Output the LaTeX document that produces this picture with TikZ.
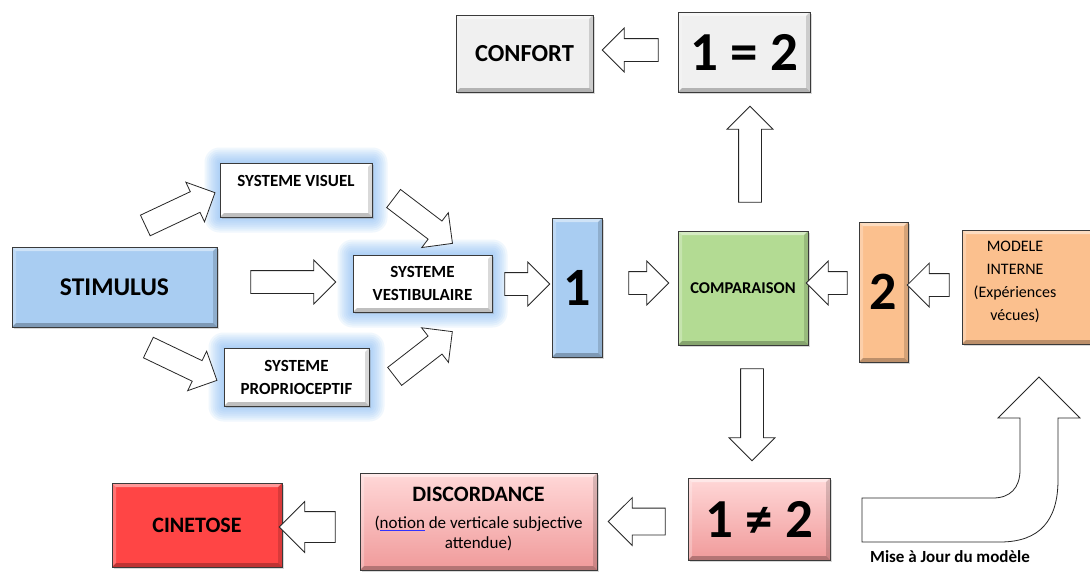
\documentclass[tikz,border=0pt]{standalone}
\usepackage{fontspec}
\setmainfont{Carlito}
\usetikzlibrary{shapes.arrows,shadows,backgrounds}
\definecolor{stimblue}{HTML}{A9CDF2}
\definecolor{compgreen}{HTML}{B3DB93}
\definecolor{orng}{HTML}{FBC08E}
\definecolor{cinered}{HTML}{FF4545}
\definecolor{lgrey}{HTML}{F0F0F0}
\definecolor{pinktop}{HTML}{FFD8D8}
\definecolor{pinkbot}{HTML}{F09A9A}
\definecolor{glowc}{HTML}{7FB8F5}
\definecolor{edgec}{HTML}{3A3A3A}
\newcommand\fs[2]{\fontsize{#1}{#2}\selectfont}
\newsavebox\ulbox
\newcommand\spellul[1]{\sbox\ulbox{#1}\rlap{\color{blue!80}\rule[-2.5pt]{\wd\ulbox}{0.7pt}}\usebox\ulbox}
\def\ppb{path picture bounding box}
\tikzset{
  bevel/.style={path picture={
    \fill[white,opacity=0.45] (\ppb.north west) -- (\ppb.north east) -- ([shift={(-4pt,-4pt)}]\ppb.north east) -- ([shift={(4pt,-4pt)}]\ppb.north west) -- cycle;
    \fill[white,opacity=0.25] (\ppb.north west) -- ([shift={(4pt,-4pt)}]\ppb.north west) -- ([shift={(4pt,4pt)}]\ppb.south west) -- (\ppb.south west) -- cycle;
    \fill[black,opacity=0.25] (\ppb.south west) -- (\ppb.south east) -- ([shift={(-4pt,4pt)}]\ppb.south east) -- ([shift={(4pt,4pt)}]\ppb.south west) -- cycle;
    \fill[black,opacity=0.15] (\ppb.north east) -- ([shift={(-4pt,-4pt)}]\ppb.north east) -- ([shift={(-4pt,4pt)}]\ppb.south east) -- (\ppb.south east) -- cycle;
  }},
  box/.style={draw=edgec, line width=1pt, inner sep=0pt, align=center, bevel,
    drop shadow={shadow xshift=1.5pt, shadow yshift=-2pt, opacity=0.3}},
  sysbox/.style={box, fill=white, font=\fs{17}{23}\bfseries},
  barrow/.style={single arrow, draw=black!85, fill=white, line width=0.8pt, inner xsep=0pt, inner ysep=11pt,
    minimum width=43pt, single arrow head extend=10.5pt, single arrow head indent=0pt},
  glowlayer/.style={glowc, opacity=0.11}
}
\begin{document}
\begin{tikzpicture}[x=1pt,y=-1pt]
\useasboundingbox (0,0) rectangle (1090,571);

% boxes
\node[box, fill=stimblue, minimum width=205pt, minimum height=80pt, font=\fs{25.5}{28}\bfseries] (stim) at (114.5,287) {STIMULUS};
\node[sysbox, minimum width=152pt, minimum height=54pt] (visuel) at (296,190) {};
\node[font=\fs{17}{23}\bfseries, inner sep=0pt] (visuelt) at (296,181) {SYSTEME VISUEL};
\node[sysbox, minimum width=139pt, minimum height=57pt] (vestib) at (422.5,283.5) {SYSTEME\\VESTIBULAIRE};
\node[sysbox, minimum width=145pt, minimum height=58pt] (proprio) at (296.5,377) {SYSTEME\\PROPRIOCEPTIF};
\node[box, fill=stimblue, minimum width=50pt, minimum height=139pt, font=\fs{54}{60}\bfseries] (one) at (577,287.5) {1};
\node[box, fill=compgreen, minimum width=130pt, minimum height=114pt, font=\fs{16.5}{20}\bfseries] (comp) at (743,288) {COMPARAISON};
\node[box, fill=orng, minimum width=49pt, minimum height=140pt, font=\fs{54}{60}\bfseries] (two) at (883.5,292) {2};
\node[box, fill=orng, minimum width=138pt, minimum height=114pt] (modele) at (1031,287) {};
\node[font=\fs{16}{23}, align=center, inner sep=0pt] (modeletxt) at (1015,282) {MODELE\\INTERNE\\(Expériences\\vécues)};
\node[box, fill=lgrey, minimum width=137pt, minimum height=77pt, font=\fs{24.5}{28}\bfseries] (conf) at (524.5,53.5) {CONFORT};
\node[box, fill=lgrey, minimum width=132pt, minimum height=80pt, font=\fs{55}{60}\bfseries] (eq) at (744,52) {1 = 2};
\node[box, top color=pinktop, bottom color=pinkbot, minimum width=142pt, minimum height=82pt, font=\fs{55}{60}\bfseries] (neq) at (759,519) {1 ≠ 2};
\node[box, top color=pinktop, bottom color=pinkbot, minimum width=237pt, minimum height=97pt] (disc) at (478.5,521.5) {};
\node[font=\fs{22}{24}\bfseries, inner sep=0pt] (disct) at (478.5,494) {DISCORDANCE};
\node[font=\fs{17}{20}, align=center, inner sep=0pt] (discs) at (478.5,533) {(\spellul{notion} de verticale subjective\\attendue)};
\node[box, fill=cinered, minimum width=170pt, minimum height=84pt, font=\fs{22}{26}\bfseries] (cine) at (197,525) {CINETOSE};
\node[font=\fs{17}{20}\bfseries, inner sep=0pt] (maj) at (950,557) {Mise à Jour du modèle};

% background and glow
\begin{scope}[on background layer]
\fill[white] (0,0) rectangle (1090,571);
\foreach \n in {visuel,vestib,proprio}{
  \foreach \g in {15,13,...,1}{
    \fill[glowlayer, rounded corners=\g pt] ([shift={(-\g pt,-\g pt)}]\n.south west) rectangle ([shift={(\g pt,\g pt)}]\n.north east);
  }}
\end{scope}

% block arrows
\node[barrow, minimum height=77pt, rotate=25.2] (a1) at (175,211.5) {};
\node[barrow, minimum height=76pt, rotate=-25.6] (a2) at (177.5,361.5) {};
\node[barrow, minimum height=74pt, rotate=-37.3] (a3) at (418.5,217.5) {};
\node[barrow, minimum height=73pt, rotate=37.8] (a4) at (419,357.5) {};
\node[barrow, minimum height=85pt] (a5) at (287.5,282) {};
\node[barrow, minimum height=45pt] (a6) at (521.5,284) {};
\node[barrow, minimum height=40pt] (a7) at (643,283) {};
\node[barrow, minimum height=41pt, rotate=180] (a8) at (832.5,283) {};
\node[barrow, minimum height=42pt, rotate=180] (a9) at (934,285) {};
\node[barrow, minimum height=56pt, rotate=180] (a10) at (636,50) {};
\node[barrow, minimum height=96pt, minimum width=45pt, single arrow head extend=11.5pt, rotate=90] (a11) at (750,160) {};
\node[barrow, minimum height=92pt, minimum width=45pt, single arrow head extend=11.5pt, rotate=-90] (a12) at (752,409) {};
\node[barrow, minimum height=57pt, minimum width=47pt, inner ysep=13pt, single arrow head extend=10.5pt, rotate=180] (a13) at (643.5,521.5) {};
\node[barrow, minimum height=56pt, minimum width=50pt, inner ysep=15pt, single arrow head extend=10pt, rotate=180] (a14) at (315,527) {};

% curved update arrow
\draw[black!85, line width=0.8pt, fill=white, line join=miter]
  (862,498) -- (862,542) -- (1000,542) .. controls (1040,542) and (1058,520) .. (1058,480)
  -- (1058,418) -- (1080,418) -- (1039,377) -- (998,418) -- (1020,418) -- (1020,470)
  .. controls (1020,488) and (1010,498) .. (993,498) -- cycle;
\end{tikzpicture}
\end{document}
